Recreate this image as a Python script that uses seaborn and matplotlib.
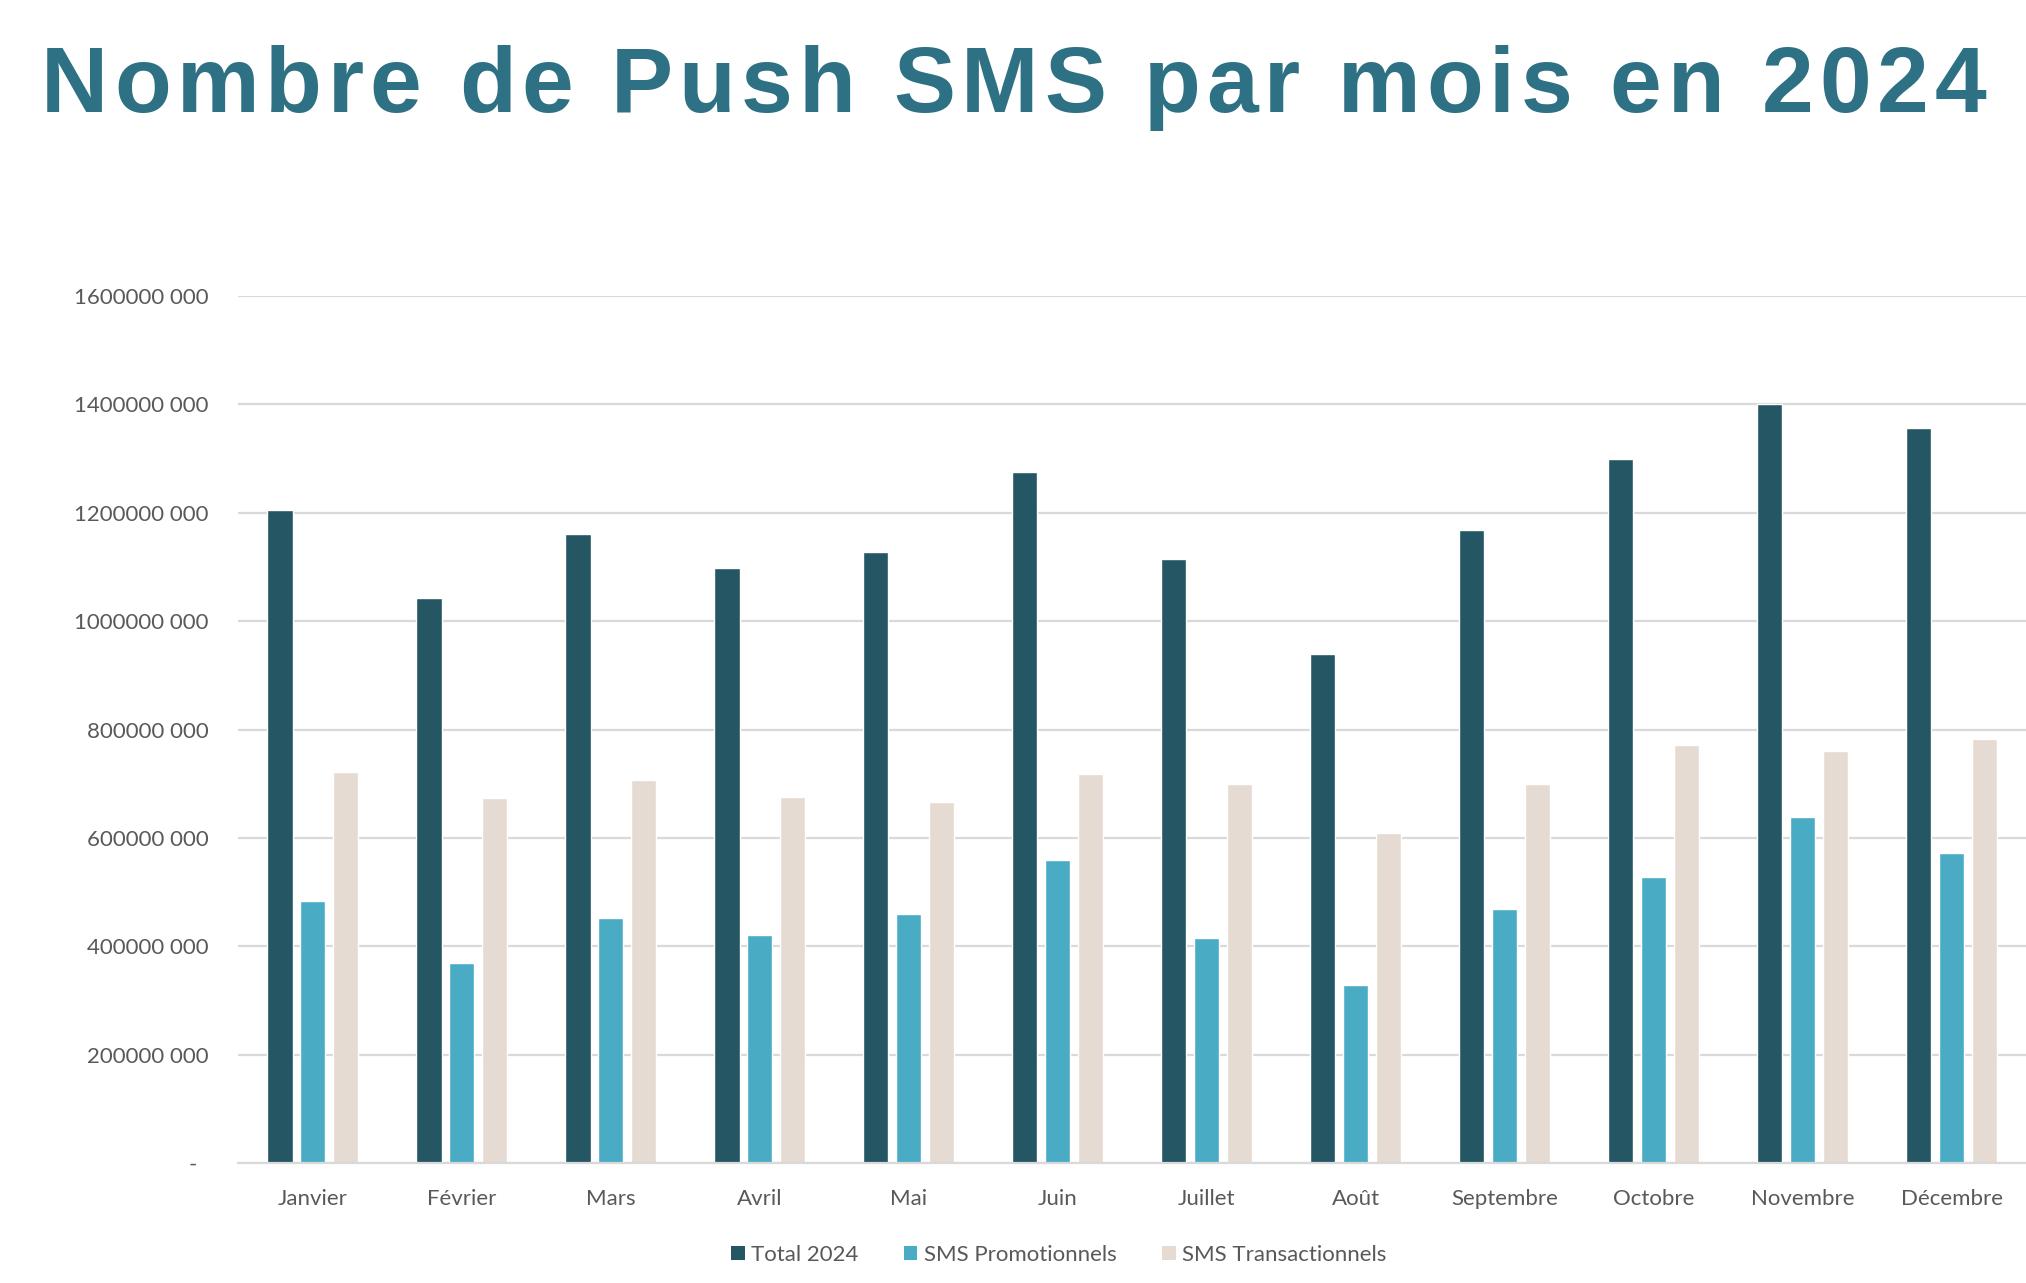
import matplotlib
matplotlib.use("Agg")
import matplotlib.pyplot as plt
import seaborn as sns
import pandas as pd
from matplotlib.patches import Patch

# ---- data ----
months = ["Janvier", "Février", "Mars", "Avril", "Mai", "Juin", "Juillet",
          "Août", "Septembre", "Octobre", "Novembre", "Décembre"]
total_2024 = [1205e6, 1043e6, 1160e6, 1098e6, 1127e6, 1275e6, 1114e6,
              940e6, 1168e6, 1299e6, 1400e6, 1356e6]
sms_promo = [483e6, 370e6, 453e6, 421e6, 460e6, 559e6, 415e6,
             329e6, 469e6, 527e6, 639e6, 573e6]
sms_trans = [721e6, 673e6, 706e6, 676e6, 666e6, 717e6, 699e6,
             609e6, 699e6, 771e6, 760e6, 782e6]
series_names = ["Total 2024", "SMS Promotionnels", "SMS Transactionnels"]
series_colors = ["#245664", "#4AABC5", "#E6DBD2"]
y_ticks = [0, 200e6, 400e6, 600e6, 800e6, 1000e6, 1200e6, 1400e6, 1600e6]
y_tick_labels = ["-  ", "200000 000", "400000 000", "600000 000", "800000 000",
                 "1000000 000", "1200000 000", "1400000 000", "1600000 000"]
title = "Nombre de Push SMS par mois en 2024"

df = pd.DataFrame({
    "Mois": months * 3,
    "Série": sum([[n] * len(months) for n in series_names], []),
    "Valeur": total_2024 + sms_promo + sms_trans,
})

sns.set_theme(style="white")
plt.rcParams["font.family"] = ["Lato", "DejaVu Sans"]

fig = plt.figure(figsize=(20.26, 12.83), dpi=100)
ax = fig.add_axes([0.1175, 0.0935, 0.8825, 0.6758])

sns.barplot(data=df, x="Mois", y="Valeur", hue="Série", order=months,
            hue_order=series_names, palette=series_colors,
            width=0.663, gap=0.217, ax=ax, legend=False, saturation=1)

ax.set_ylim(0, 1.6e9)
ax.set_xlim(-0.5, len(months) - 0.5)
ax.set_yticks(y_ticks)
ax.set_yticklabels(y_tick_labels)
ax.set_xlabel("")
ax.set_ylabel("")
ax.yaxis.grid(True, color="#D9D9D9", linewidth=1.6)
ax.set_axisbelow(True)
for s in ["top", "right", "left"]:
    ax.spines[s].set_visible(False)
ax.spines["bottom"].set_color("#D9D9D9")
ax.spines["bottom"].set_linewidth(1.6)
ax.tick_params(axis="both", length=0, labelsize=16, labelcolor="#595959")
ax.tick_params(axis="y", pad=21)
ax.tick_params(axis="x", pad=18.5)

handles = [Patch(facecolor=c, edgecolor="none", label=n)
           for n, c in zip(series_names, series_colors)]
fig.legend(handles=handles, loc="center", bbox_to_anchor=(0.5227, 0.022),
           ncol=3, frameon=False, fontsize=16, handlelength=0.6,
           handleheight=0.6, handletextpad=0.3, columnspacing=2.05,
           labelcolor="#595959")

# ---- letter-spaced title ----
renderer = fig.canvas.get_renderer()
tprops = dict(fontsize=67, fontweight="bold", color="#2E7184",
              family=["Liberation Sans", "DejaVu Sans"], va="center", ha="left")
widths = []
for ch in title:
    t = fig.text(0, 0, ch if ch != " " else "n", **tprops)
    w = t.get_window_extent(renderer).width
    if ch == " ":
        t2 = fig.text(0, 0, "n n", **tprops)
        w = t2.get_window_extent(renderer).width - 2 * w
        t2.remove()
    widths.append(w)
    t.remove()
x_start, x_end = 41.0, 1986.0
spacing = (x_end - x_start - sum(widths)) / (len(title) - 1)
x = x_start
W, H = fig.get_size_inches() * fig.dpi
for ch, w in zip(title, widths):
    if ch != " ":
        fig.text(x / W, 1 - 88 / H, ch, **tprops)
    x += w + spacing

fig.savefig("out.png", dpi=100, facecolor="white")
